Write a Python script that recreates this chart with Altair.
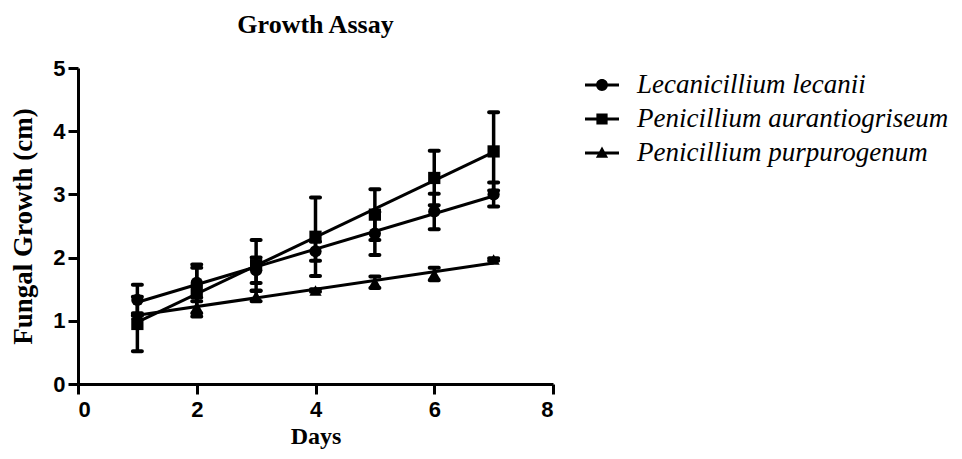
import altair as alt
import pandas as pd

days = [1, 2, 3, 4, 5, 6, 7]
series_names = ["Lecanicillium lecanii", "Penicillium aurantiogriseum", "Penicillium purpurogenum"]
lecanii_mean = [1.33, 1.60, 1.80, 2.10, 2.38, 2.73, 3.00]
lecanii_err = [0.24, 0.29, 0.20, 0.15, 0.34, 0.28, 0.19]
aurant_mean = [0.95, 1.48, 1.88, 2.33, 2.68, 3.26, 3.68]
aurant_err = [0.43, 0.36, 0.40, 0.62, 0.40, 0.43, 0.62]
purpur_mean = [1.10, 1.22, 1.39, 1.48, 1.61, 1.74, 1.97]
purpur_err = [0.02, 0.15, 0.08, 0.02, 0.09, 0.10, 0.02]

rows = []
for name, means, errs in zip(series_names,
                             [lecanii_mean, aurant_mean, purpur_mean],
                             [lecanii_err, aurant_err, purpur_err]):
    for d, m, e in zip(days, means, errs):
        rows.append({"series": name, "day": d, "mean": m, "lo": m - e, "hi": m + e})
df = pd.DataFrame(rows)

serif = "Liberation Serif"
sans = "Liberation Sans"

xscale = alt.Scale(domain=[0, 8], nice=False)
yscale = alt.Scale(domain=[0, 5], nice=False)

xaxis = alt.Axis(values=[0, 2, 4, 6, 8], title="Days", grid=False)
yaxis = alt.Axis(values=[0, 1, 2, 3, 4, 5], title="Fungal Growth (cm)", grid=False)

base = alt.Chart(df)

x = alt.X("day:Q", scale=xscale, axis=xaxis)
y = alt.Y("mean:Q", scale=yscale, axis=yaxis)

bars = base.mark_rule(color="black", strokeWidth=3.5).encode(
    x=x, y=alt.Y("lo:Q", scale=yscale, axis=yaxis), y2="hi:Q"
)
cap_lo = base.mark_tick(color="black", orient="horizontal", size=13, thickness=4, cornerRadius=2, opacity=1).encode(
    x=x, y=alt.Y("lo:Q", scale=yscale, axis=yaxis)
)
cap_hi = base.mark_tick(color="black", orient="horizontal", size=13, thickness=4, cornerRadius=2, opacity=1).encode(
    x=x, y=alt.Y("hi:Q", scale=yscale, axis=yaxis)
)

fit = base.transform_regression(
    "day", "mean", groupby=["series"], extent=[1, 7]
).mark_line(color="black", strokeWidth=3).encode(
    x=x, y=y, detail="series:N"
)

points = base.mark_point(filled=True, color="black", size=150, opacity=1).encode(
    x=x, y=y,
    shape=alt.Shape("series:N", scale=alt.Scale(domain=series_names,
                    range=["circle", "square", "triangle-up"]), legend=None),
)

circle_path = ("M-1,-0.085 H1 V0.085 H-1 Z "
               "M0.35,0 A0.35,0.35 0 1,1 -0.35,0 A0.35,0.35 0 1,1 0.35,0 Z")
square_path = ("M-1,-0.085 H-0.33 V-0.33 H0.33 V-0.085 H1 V0.085 H0.33 V0.33 "
               "H-0.33 V0.085 H-1 Z")
tri_path = ("M-1,-0.085 L-0.161,-0.085 L0,-0.38 L0.161,-0.085 L1,-0.085 L1,0.085 "
            "L0.254,0.085 L0.36,0.28 L-0.36,0.28 L-0.254,0.085 L-1,0.085 Z")

legend_layer = base.mark_point(filled=True, color="black", opacity=0).encode(
    x=x, y=y,
    shape=alt.Shape("series:N", scale=alt.Scale(domain=series_names,
                    range=[circle_path, square_path, tri_path]),
                    legend=alt.Legend(title=None, orient="none", legendX=507, legendY=0,
                                      symbolSize=1156, symbolOpacity=1,
                                      symbolFillColor="black", symbolStrokeColor="black",
                                      symbolStrokeWidth=0,
                                      labelFont=serif, labelFontStyle="italic",
                                      labelFontSize=27, labelColor="black",
                                      labelOffset=18, rowPadding=4, labelLimit=500)),
)

chart = alt.layer(bars, cap_lo, cap_hi, fit, points, legend_layer).resolve_scale(
    shape="independent"
).properties(
    width=475, height=316,
    title=alt.TitleParams("Growth Assay", font=serif, fontSize=26, fontWeight="bold",
                          color="black", anchor="middle", offset=19),
    autosize=alt.AutoSizeParams(type="none"),
    padding={"left": 70, "top": 60, "right": 401, "bottom": 67},
).configure_view(stroke=None).configure_axis(
    domainColor="black", domainWidth=3, tickColor="black", tickWidth=3, tickSize=10,
    labelFont=sans, labelFontWeight="bold", labelFontSize=22, labelColor="black",
    titleFont=serif, titleFontWeight="bold", titleColor="black",
).configure_axisY(titlePadding=15, labelPadding=3, titleFontSize=27).configure_axisX(
    titlePadding=4, labelPadding=5, titleFontSize=24)

chart.save("out.html", embed_options={"renderer": "svg", "actions": False})
